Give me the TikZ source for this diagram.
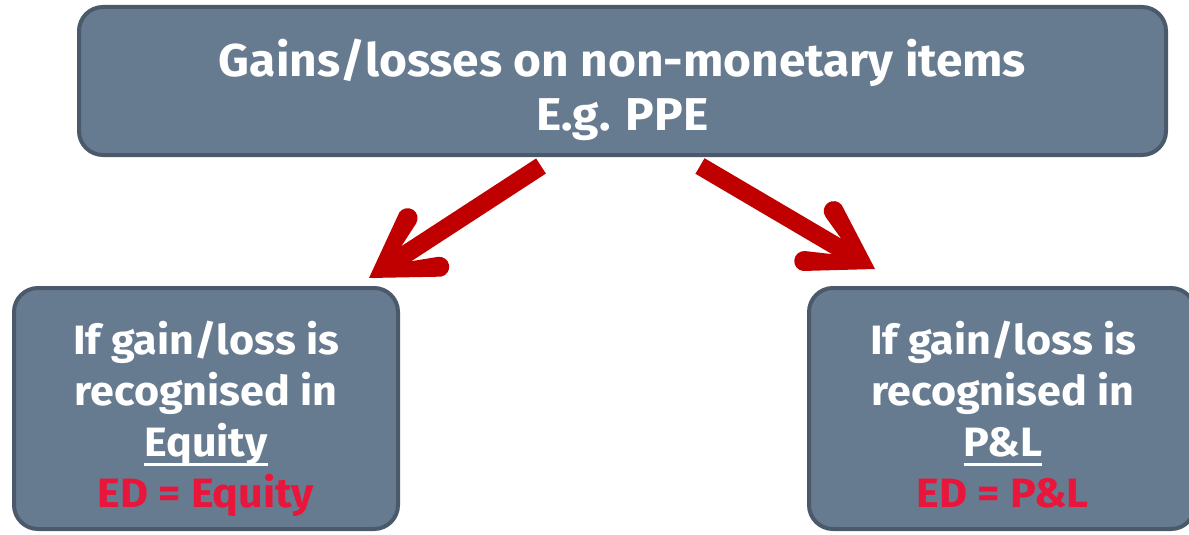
\documentclass[tikz,border=0pt]{standalone}
\usepackage{fontspec}
\setmainfont{Fira Sans}[FakeStretch=1.05]
\newfontfamily\headfont{Fira Sans}[FakeStretch=1.04]
\usetikzlibrary{calc}
\definecolor{boxfill}{RGB}{103,123,144}
\definecolor{boxline}{RGB}{74,90,107}
\definecolor{arrowred}{RGB}{192,0,0}
\definecolor{edred}{RGB}{233,22,60}
\newcommand{\ulbox}[1]{\setbox0\hbox{#1}\leavevmode\rlap{\rule[-10pt]{\wd0}{3pt}}\box0}
\tikzset{
  panel/.style={draw=boxline, fill=boxfill, line width=4pt, rounded corners=24pt, inner sep=0pt},
  toptxt/.style={text=white, align=center, inner sep=0pt, font=\headfont\bfseries\fontsize{46}{54}\selectfont},
  subtxt/.style={text=white, align=center, inner sep=0pt, font=\bfseries\fontsize{41}{50.7}\selectfont},
  shaft/.style={draw=arrowred, line width=18pt},
  redhead/.pic={
    \fill[arrowred] (0,0) -- (-60.9,38.1) arc[start angle=66,end angle=246,radius=10]
      -- (-44.6,9) -- (-44.6,-9) -- (-69.1,-19.9)
      arc[start angle=114,end angle=294,radius=10] -- cycle;
  }
}
\begin{document}
\begin{tikzpicture}[x=1pt,y=1pt]
\useasboundingbox (0,0) rectangle (1189,-535);
\clip (0,0) rectangle (1189,-535);
\fill[white] (0,0) rectangle (1189,-535);
% boxes
\node[panel, minimum width=1087pt, minimum height=148pt] (top) at (622.5,-81) {};
\node[panel, minimum width=384pt, minimum height=241pt] (left) at (206,-408.5) {};
\node[panel, minimum width=386pt, minimum height=241pt] (right) at (1002,-408.5) {};
% texts (anchor base = baseline of the last line)
\node[toptxt, anchor=base] (toptext) at (622.5,-130) {Gains/losses on non-monetary items\\E.g. PPE};
\node[subtxt, anchor=base] (lefttext) at (206,-507) {If gain/loss is\\recognised in\\\ulbox{Equity}\\\textcolor{edred}{ED = Equity}};
\node[subtxt, anchor=base] (righttext) at (1003,-507) {If gain/loss is\\recognised in\\\ulbox{P\&L}\\\textcolor{edred}{ED = P\&L}};
% arrows
\coordinate (a1tail) at (541,-166);
\coordinate (a1tip) at (369,-278);
\coordinate (a2tail) at (700,-166);
\coordinate (a2tip) at (875,-269);
\draw[shaft] (a1tail) -- ($(a1tip)!42pt!(a1tail)$);
\pic[rotate=213.1] at (a1tip) {redhead};
\draw[shaft] (a2tail) -- ($(a2tip)!42pt!(a2tail)$);
\pic[rotate=-30.48] at (a2tip) {redhead};
\end{tikzpicture}
\end{document}
